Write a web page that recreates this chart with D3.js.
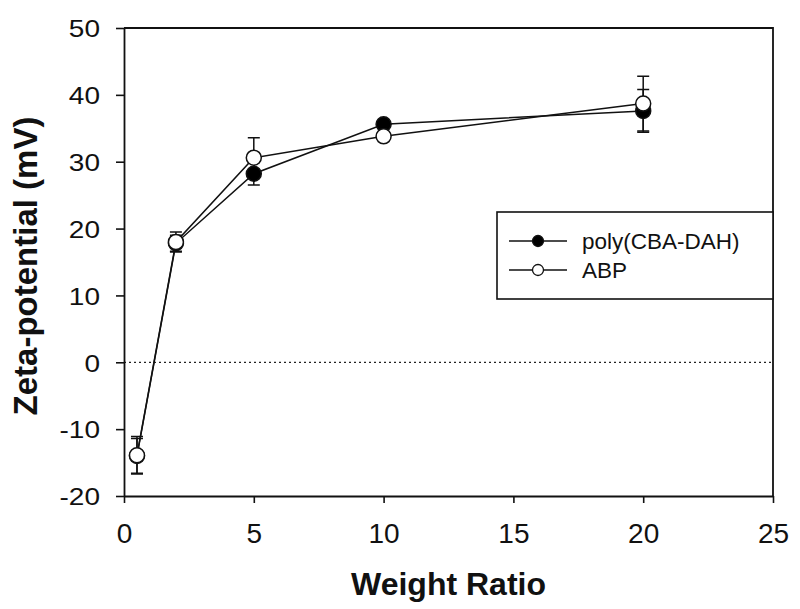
<!DOCTYPE html>
<html><head><meta charset="utf-8">
<script src="https://cdn.jsdelivr.net/npm/d3@7"></script>
<style>
body{margin:0;background:#fff;}
svg{display:block;font-family:Arial,"Liberation Sans",sans-serif;}
</style></head>
<body><svg id="c" width="800" height="609"></svg>
<script>
const weightRatio = [0.5, 2, 5, 10, 20];
const polyValues = [-14.0, 17.8, 28.2, 35.6, 37.6];
const polyErrors = [2.6, 1.2, 1.7, 0.6, 3.2];
const abpValues = [-13.9, 18.0, 30.6, 33.8, 38.7];
const abpErrors = [2.8, 1.5, 3.0, 0.6, 4.1];
const xTicks = [0, 5, 10, 15, 20, 25];
const yTicks = [-20, -10, 0, 10, 20, 30, 40, 50];
const seriesNames = ["poly(CBA-DAH)", "ABP"];

const svg = d3.select("#c");
const L = 124, R = 773, T = 28, B = 496;
const x = d3.scaleLinear().domain([0, 25]).range([L, R]);
const y = d3.scaleLinear().domain([-20, 50]).range([B, T]);
const fmt = v => String(v);

// zero reference line
svg.append("line").attr("x1", L).attr("x2", R).attr("y1", y(0)).attr("y2", y(0))
  .attr("stroke", "#222").attr("stroke-width", 1.3).attr("stroke-dasharray", "2,3");

// frame (top & right)
svg.append("path").attr("d", `M${L},${T}H${R}V${B}`).attr("fill", "none")
  .attr("stroke", "#111").attr("stroke-width", 1.8);

const yAxis = svg.append("g").attr("transform", `translate(${L},0)`)
  .call(d3.axisLeft(y).tickValues(yTicks).tickFormat(fmt).tickSize(8).tickSizeOuter(0));
yAxis.select(".domain").attr("stroke", "#111").attr("stroke-width", 1.8);
yAxis.selectAll(".tick line").attr("stroke", "#111").attr("stroke-width", 1.6);
yAxis.selectAll("text").attr("font-size", 28).attr("fill", "#111")
  .attr("x", 0).attr("y", 0).attr("dy", "0.37em")
  .attr("transform", "translate(-24,0) scale(1,0.85)")
  .attr("font-family", "Arial, 'Liberation Sans', sans-serif");

const xAxis = svg.append("g").attr("transform", `translate(0,${B})`)
  .call(d3.axisBottom(x).tickValues(xTicks).tickFormat(fmt).tickSize(7).tickSizeOuter(0));
xAxis.select(".domain").attr("stroke", "#111").attr("stroke-width", 1.8);
xAxis.selectAll(".tick line").attr("stroke", "#111").attr("stroke-width", 1.6);
xAxis.selectAll("text").attr("font-size", 28).attr("fill", "#111")
  .attr("y", 46.5).attr("dy", 0)
  .attr("font-family", "Arial, 'Liberation Sans', sans-serif");

// axis titles
svg.append("text").attr("x", (L + R) / 2).attr("y", 595).attr("text-anchor", "middle")
  .attr("font-size", 32).attr("font-weight", "bold").attr("fill", "#111").text("Weight Ratio");
svg.append("text").attr("transform", "translate(37,266) rotate(-90)").attr("text-anchor", "middle")
  .attr("font-size", 33).attr("font-weight", "bold").attr("fill", "#111").text("Zeta-potential (mV)");

const series = [
  {name: seriesNames[0], vals: polyValues, errs: polyErrors, fill: "#000"},
  {name: seriesNames[1], vals: abpValues, errs: abpErrors, fill: "#fff"}
];
const line = d3.line().x(d => x(d[0])).y(d => y(d[1]));

series.forEach(s => {
  const pts = weightRatio.map((w, i) => [w, s.vals[i]]);
  svg.append("path").attr("d", line(pts)).attr("fill", "none").attr("stroke", "#111").attr("stroke-width", 1.5);
});
series.forEach(s => {
  const g = svg.append("g");
  weightRatio.forEach((w, i) => {
    const cx = x(w), lo = y(s.vals[i] - s.errs[i]), hi = y(s.vals[i] + s.errs[i]);
    g.append("path").attr("d", `M${cx},${lo}V${hi}M${cx - 6},${lo}H${cx + 6}M${cx - 6},${hi}H${cx + 6}`)
      .attr("stroke", "#111").attr("stroke-width", 1.5).attr("fill", "none");
  });
});
series.forEach(s => {
  svg.append("g").selectAll("circle").data(weightRatio.map((w, i) => [w, s.vals[i]])).join("circle")
    .attr("cx", d => x(d[0])).attr("cy", d => y(d[1])).attr("r", 7.5)
    .attr("fill", s.fill).attr("stroke", "#111").attr("stroke-width", 1.5);
});

// legend
const lg = svg.append("g");
lg.append("rect").attr("x", 497).attr("y", 212).attr("width", R - 497).attr("height", 87)
  .attr("fill", "#fff").attr("stroke", "#111").attr("stroke-width", 1.6);
series.forEach((s, i) => {
  const yy = 241 + i * 29;
  lg.append("line").attr("x1", 509).attr("x2", 567).attr("y1", yy).attr("y2", yy)
    .attr("stroke", "#111").attr("stroke-width", 1.5);
  lg.append("circle").attr("cx", 538).attr("cy", yy).attr("r", 5.5)
    .attr("fill", s.fill).attr("stroke", "#111").attr("stroke-width", 1.3);
  lg.append("text").attr("x", 582).attr("y", yy).attr("dy", "0.36em")
    .attr("font-size", 22.5).attr("fill", "#111").text(s.name);
});
</script></body></html>
